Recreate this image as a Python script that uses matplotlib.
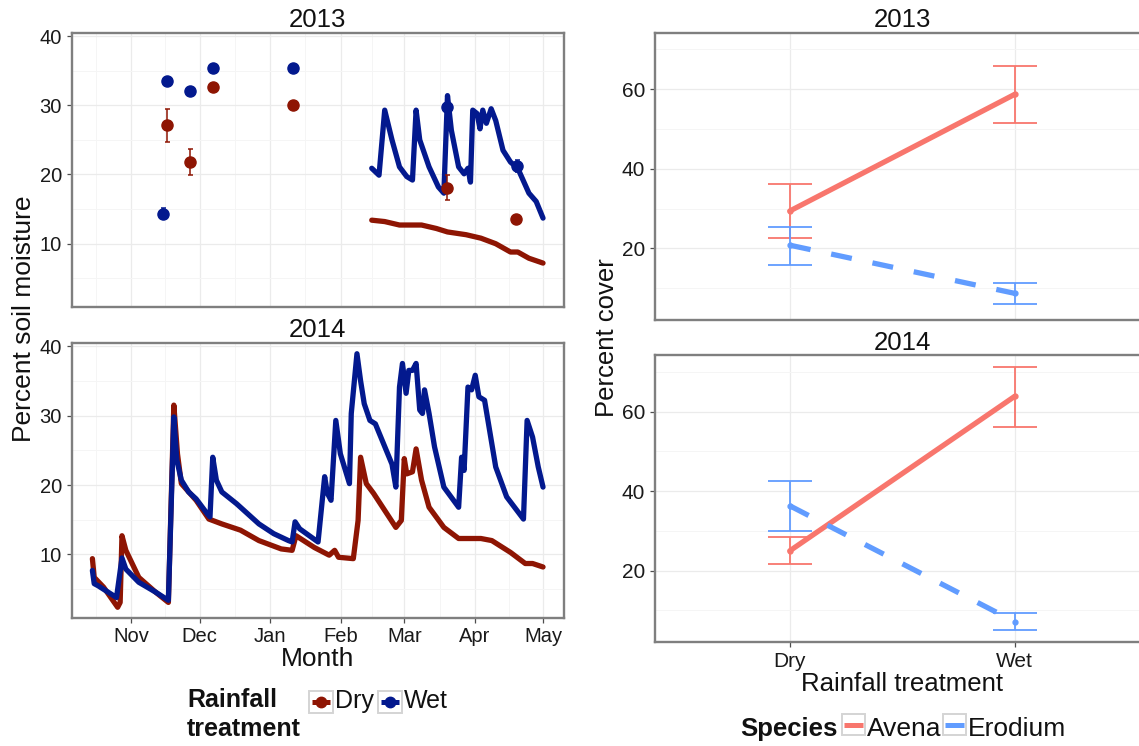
import numpy as np
import pandas as pd
import matplotlib
matplotlib.use('Agg')
import matplotlib.pyplot as plt
from matplotlib.patches import Rectangle

plt.rcParams['font.family'] = ['Liberation Sans', 'DejaVu Sans']

# ---------------- DATA ----------------
SEASON_START = '2000-11-01'   # day 0 = 1 November of the growing season

# 2013 season, continuous sensor lines (days since Nov 1, percent soil moisture)
wet13_days = [105.7, 108.9, 111.4, 114.6, 117.9, 121.1, 123.6, 125.2, 126.8, 130.9,
              135.0, 137.4, 139.0, 140.7, 143.9, 146.3, 148.0, 149.1, 150.1, 152.0,
              153.3, 154.5, 156.1, 158.2, 160.2, 163.4, 166.7, 169.9, 174.8, 178.0, 181.0]
wet13_vals = [20.9, 19.9, 29.3, 25.0, 21.1, 19.7, 19.2, 29.3, 25.0, 21.1,
              18.2, 17.3, 31.4, 26.4, 21.1, 20.1, 20.9, 18.9, 29.3, 28.8,
              26.6, 29.3, 27.4, 29.5, 27.8, 23.5, 21.8, 20.9, 17.3, 16.1, 13.7]
dry13_days = [105.7, 111.4, 117.9, 127.6, 134.1, 139.0, 147.2, 153.7, 160.2, 166.7,
              169.9, 174.8, 181.0]
dry13_vals = [13.4, 13.2, 12.7, 12.7, 12.2, 11.7, 11.3, 10.8, 10.0, 8.8,
              8.8, 7.9, 7.2]

# 2013 season, point measurements (mean, standard error)
wet13_pt_days = [13.8, 15.9, 26.0, 36.1, 71.1, 139.0, 169.6]
wet13_pt_vals = [14.3, 33.5, 32.1, 35.4, 35.4, 29.7, 21.2]
wet13_pt_se = [0.8, 0.3, 0.6, 0.5, 0.3, 0.6, 0.9]
dry13_pt_days = [15.9, 26.0, 36.1, 71.1, 139.0, 169.1]
dry13_pt_vals = [27.1, 21.8, 32.6, 30.0, 18.1, 13.5]
dry13_pt_se = [2.4, 1.9, 0.3, 0.2, 1.8, 0.3]

# 2014 season, continuous sensor lines
wet14_days = [-17.1, -16.3, -14.6, -6.5, -4.1, -2.4, 3.3, 10.6, 16.3, 18.7,
              20.0, 22.0, 25.2, 28.5, 33.3, 34.6, 35.8, 37.4, 39.8, 46.3,
              56.1, 62.6, 69.1, 70.7, 72.0, 74.0, 82.1, 85.0, 86.2, 87.8,
              89.9, 91.9, 95.9, 96.7, 99.2, 100.8, 102.4, 104.9, 107.3, 114.6,
              116.3, 117.9, 119.2, 120.8, 122.0, 123.6, 125.2, 126.8, 128.0, 128.9,
              130.9, 133.3, 137.4, 143.9, 145.2, 146.3, 148.0, 149.6, 151.2, 152.8,
              155.3, 160.2, 165.0, 172.4, 174.0, 176.4, 178.9, 181.0]
wet14_vals = [7.7, 5.8, 5.5, 3.8, 9.5, 7.9, 6.0, 4.6, 3.4, 29.8,
              23.6, 20.7, 19.0, 18.0, 15.9, 15.4, 24.0, 20.7, 19.0, 17.3,
              14.4, 13.0, 12.0, 11.8, 14.7, 13.7, 11.8, 21.2, 18.8, 17.8,
              29.3, 24.5, 20.2, 30.3, 38.9, 35.0, 31.7, 29.3, 28.8, 23.0,
              19.7, 34.1, 37.5, 33.2, 36.5, 36.5, 37.5, 30.8, 30.3, 33.7,
              30.3, 25.5, 19.7, 16.8, 24.0, 22.1, 34.1, 33.7, 35.8, 32.7,
              32.2, 22.6, 18.3, 15.1, 29.3, 26.9, 22.6, 19.7]
dry14_days = [-17.1, -16.3, -12.2, -6.0, -4.9, -4.1, -2.4, 3.3, 10.6, 16.3,
              18.7, 20.3, 22.0, 28.5, 34.1, 39.8, 48.0, 56.1, 65.9, 70.7,
              72.4, 80.5, 87.0, 89.4, 91.1, 97.6, 99.7, 100.8, 103.3, 106.5,
              116.3, 118.7, 120.0, 121.1, 123.6, 125.2, 127.6, 130.9, 137.4, 143.9,
              153.7, 158.5, 166.7, 173.2, 176.4, 181.0]
dry14_vals = [9.4, 6.7, 5.3, 2.4, 3.1, 12.7, 10.6, 6.7, 4.6, 3.1,
              31.5, 24.5, 20.2, 17.8, 15.1, 14.4, 13.5, 12.0, 10.8, 10.6,
              12.7, 11.0, 9.9, 10.6, 9.6, 9.4, 14.9, 24.0, 20.2, 18.8,
              13.9, 14.9, 23.8, 21.6, 21.9, 25.2, 20.7, 16.8, 13.9, 12.3,
              12.3, 12.0, 10.3, 8.7, 8.7, 8.2]

month_labels = ['Nov', 'Dec', 'Jan', 'Feb', 'Mar', 'Apr', 'May']
soil_yticks = [10, 20, 30, 40]

# Percent cover (right panels)
treatments = ['Dry', 'Wet']
species = ['Avena', 'Erodium']
avena13_mean = [29.4, 58.7]
avena13_lo = [22.5, 51.5]
avena13_hi = [36.3, 65.9]
erodium13_mean = [20.8, 8.7]
erodium13_lo = [15.9, 5.9]
erodium13_hi = [25.4, 11.3]
avena14_mean = [25.0, 63.8]
avena14_lo = [21.7, 56.2]
avena14_hi = [28.4, 71.3]
erodium14_mean = [36.3, 7.2]
erodium14_lo = [30.0, 5.2]
erodium14_hi = [42.5, 9.4]
cover_yticks = [20, 40, 60]

# ---------------- STYLE ----------------
DRY = '#8E1503'
WET = '#03198E'
AVENA = '#F8766D'
ERODIUM = '#619CFF'
W, H = 1139, 746

fig = plt.figure(figsize=(W / 100, H / 100), dpi=100)


def px_axes(l, t, r, b):
    return fig.add_axes([l / W, 1 - b / H, (r - l) / W, (b - t) / H])


def to_dates(days):
    return (pd.Timestamp(SEASON_START) + pd.to_timedelta(np.asarray(days, dtype=float), unit='D')).to_numpy()


def style(ax):
    for s in ax.spines.values():
        s.set_color('#7F7F7F')
        s.set_linewidth(1.7)
    ax.grid(True, which='major', color='#EBEBEB', lw=0.9)
    ax.grid(True, which='minor', color='#F5F5F5', lw=0.7)
    ax.set_axisbelow(True)
    ax.tick_params(which='major', direction='out', length=3.5, width=0.9,
                   color='#4D4D4D', labelcolor='#1A1A1A')
    ax.tick_params(which='minor', length=0)


month_starts = pd.date_range('2000-10-01', '2001-05-01', freq='MS')
major_months = month_starts[1:]
minor_months = month_starts[:-1] + (month_starts[1:] - month_starts[:-1]) / 2

ax13 = px_axes(71.7, 33.3, 563.5, 306.7)
ax14 = px_axes(71.7, 343.3, 563.5, 617.7)

for ax in (ax13, ax14):
    style(ax)
    ax.set_xlim(to_dates([-26.2, 190.0]))
    ax.set_ylim(0.9, 40.4)
    ax.set_xticks(major_months.to_numpy())
    ax.set_xticks(minor_months.to_numpy(), minor=True)
    ax.set_yticks(soil_yticks)
    ax.set_yticks([5, 15, 25, 35], minor=True)
    ax.tick_params(axis='y', labelsize=14.5)

ax13.tick_params(axis='x', which='both', length=0, labelbottom=False)
ax14.set_xticklabels(month_labels, fontsize=14.5)

lkw = dict(lw=3.8, solid_capstyle='round', solid_joinstyle='round')
ax13.plot(to_dates(dry13_days), dry13_vals, color=DRY, **lkw)
ax13.plot(to_dates(wet13_days), wet13_vals, color=WET, **lkw)
ax13.errorbar(to_dates(wet13_pt_days), wet13_pt_vals, yerr=wet13_pt_se, fmt='o', color=WET,
              ms=8, elinewidth=1.1, capsize=1.8, capthick=1.1, zorder=4)
ax13.errorbar(to_dates(dry13_pt_days), dry13_pt_vals, yerr=dry13_pt_se, fmt='o', color=DRY,
              ms=8, elinewidth=1.1, capsize=1.8, capthick=1.1, zorder=4)

ax14.plot(to_dates(dry14_days), dry14_vals, color=DRY, **lkw)
ax14.plot(to_dates(wet14_days), wet14_vals, color=WET, **lkw)

# Right panels
rc13 = px_axes(655, 32.7, 1149.5, 320)
rc14 = px_axes(655, 355, 1149.5, 642.3)
xpos = np.arange(1, len(treatments) + 1)
for ax in (rc13, rc14):
    style(ax)
    ax.set_xlim(0.4, 2.6)
    ax.set_ylim(2.0, 74.2)
    ax.set_xticks(xpos)
    ax.set_yticks(cover_yticks)
    ax.set_yticks([10, 30, 50, 70], minor=True)
    ax.tick_params(axis='y', labelsize=15)
rc13.tick_params(axis='x', which='both', length=0, labelbottom=False)
rc14.set_xticklabels(treatments, fontsize=15)


def cover(ax, mean, lo, hi, color, dashed):
    mean = np.asarray(mean); lo = np.asarray(lo); hi = np.asarray(hi)
    ax.errorbar(xpos, mean, yerr=[mean - lo, hi - mean], fmt='none', ecolor=color,
                elinewidth=1.3, capsize=15.8, capthick=1.3, zorder=3)
    if dashed:
        ax.plot(xpos, mean, color=color, lw=3.8, dashes=(4.0, 4.0), dash_capstyle='butt', zorder=4)
    else:
        ax.plot(xpos, mean, color=color, lw=3.8, solid_capstyle='round', zorder=4)
    ax.plot(xpos, mean, 'o', color=color, ms=3.5, zorder=5)


cover(rc13, avena13_mean, avena13_lo, avena13_hi, AVENA, False)
cover(rc13, erodium13_mean, erodium13_lo, erodium13_hi, ERODIUM, True)
cover(rc14, avena14_mean, avena14_lo, avena14_hi, AVENA, False)
cover(rc14, erodium14_mean, erodium14_lo, erodium14_hi, ERODIUM, True)

# ---------------- TEXT & LEGENDS (overlay in pixel coords) ----------------
ov = fig.add_axes([0, 0, 1, 1])
ov.set_xlim(0, W)
ov.set_ylim(H, 0)
ov.axis('off')
ov.patch.set_alpha(0)

TXT = '#111111'
ov.text(317.6, 27, '2013', fontsize=18.5, ha='center', va='baseline', color=TXT)
ov.text(317.6, 337, '2014', fontsize=18.5, ha='center', va='baseline', color=TXT)
ov.text(902, 27, '2013', fontsize=18.5, ha='center', va='baseline', color=TXT)
ov.text(902, 350, '2014', fontsize=18.5, ha='center', va='baseline', color=TXT)
ov.text(317.6, 666, 'Month', fontsize=19, ha='center', va='baseline', color=TXT)
ov.text(24, 319, 'Percent soil moisture', fontsize=19, rotation=90,
        ha='center', va='center', color=TXT)
ov.text(902, 691, 'Rainfall treatment', fontsize=18.5, ha='center', va='baseline', color=TXT)
ov.text(607, 338, 'Percent cover', fontsize=18.5, rotation=90,
        ha='center', va='center', color=TXT)

# left legend
ov.text(187, 707, 'Rainfall', fontsize=18, weight='bold', ha='left', va='baseline', color=TXT)
ov.text(187, 736, 'treatment', fontsize=18, weight='bold', ha='left', va='baseline', color=TXT)
for x0, col, lab in [(309, DRY, 'Dry'), (378, WET, 'Wet')]:
    ov.add_patch(Rectangle((x0, 691), 23.5, 22, fc='white', ec='#D4D4D4', lw=1.4))
    ov.plot([x0 + 2.5, x0 + 21], [702, 702], color=col, lw=3.6, solid_capstyle='butt')
    ov.plot([x0 + 11.75], [702], 'o', color=col, ms=7.5)
    ov.text(x0 + 26, 708, lab, fontsize=18, ha='left', va='baseline', color=TXT)

# right legend
ov.text(740, 736, 'Species', fontsize=18.5, weight='bold', ha='left', va='baseline', color=TXT)
for x0, col, lab in [(842, AVENA, 'Avena'), (943, ERODIUM, 'Erodium')]:
    ov.add_patch(Rectangle((x0, 714), 22.5, 21, fc='white', ec='#D4D4D4', lw=1.4))
    ov.plot([x0 + 2, x0 + 20.5], [724.5, 724.5], color=col, lw=3.6, solid_capstyle='butt')
    ov.text(x0 + 24.5, 736, lab, fontsize=19, ha='left', va='baseline', color=TXT)

fig.savefig('out.png', dpi=100)
